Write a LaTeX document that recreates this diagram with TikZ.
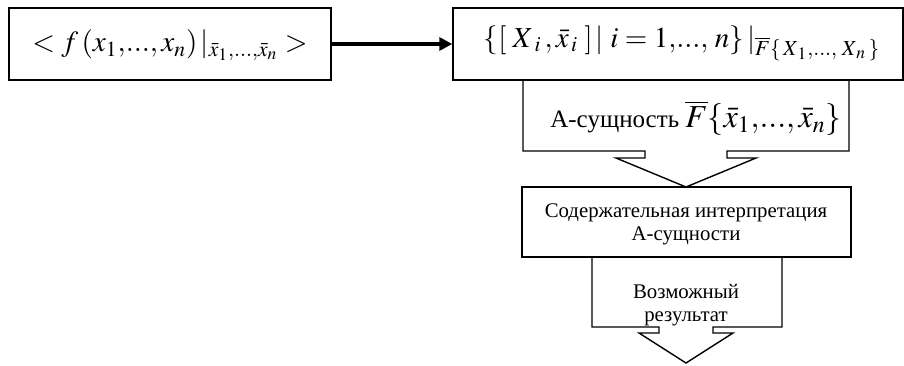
\documentclass[tikz,border=0pt]{standalone}
\usepackage{mathptmx}
\usepackage{fontspec}
\setmainfont{Liberation Serif}
\usetikzlibrary{arrows.meta}
\tikzset{
  box/.style={draw, line width=0.7pt, inner sep=0pt},
  txt/.style={inner sep=0.75pt, align=center, font=\fontsize{10.4}{11.5}\selectfont},
}
\begin{document}
\begin{tikzpicture}[x=0.5pt,y=0.5pt,yscale=-1,xscale=1]
\useasboundingbox (0,0) rectangle (904,365);
%Shape: Rectangle [id:box1]
\node [box, minimum width=161pt, minimum height=36pt] (fbox) at (170,44) {};
%Shape: Rectangle [id:box2]
\node [box, minimum width=225pt, minimum height=36pt] (setbox) at (678,44) {};
%Shape: Rectangle [id:box3]
\node [box, minimum width=164.5pt, minimum height=35pt] (interp) at (686.5,222) {};
%Shape: Down Arrow Callout [id:callout1]
\draw [line width=0.7pt]  (523,80) -- (523,151) -- (645,151) -- (645,158) -- (616,158) -- (686,187) -- (756,158) -- (727,158) -- (727,151) -- (849,151) -- (849,80) ;
%Shape: Down Arrow Callout [id:callout2]
\draw [line width=0.7pt]  (592,257) -- (592,327) -- (659,327) -- (659,333) -- (639,333) -- (686,363) -- (733,333) -- (713,333) -- (713,327) -- (782,327) -- (782,257) ;
%Straight Lines [id:main-arrow]
\draw [line width=1.6pt, -{Triangle[length=6.5pt,width=6.5pt]}]  (fbox.east) -- (setbox.west) ;

% Text Node
\node [txt, font=\fontsize{14.6}{17}\selectfont] (ftext) at (170,45) {$<f\,(x_1{,}...{,}\,x_n)\,|_{\bar{x}_1{,}...{,}\bar{x}_n}>$};
% Text Node
\node [txt, font=\fontsize{14.5}{17}\selectfont] (settext) at (682,43) {$\{[\;X_{\;i}\,,\bar{x}_{\,i}\;]\,|\;i=1{,}...{,}\;n\}\,|_{\overline{F}\{\,X_{\,1}{,}...{,}\;X_{\,n}\,\}}$};
% Text Node
\node [txt, font=\fontsize{12.5}{14}\selectfont] (atext) at (696,118) {А-сущность {\fontsize{16}{18}\selectfont$\overline{F}\{\bar{x}_1{,}...{,}\,\bar{x}_n\}$}};
% Text Node
\node [txt] (itext) at (686,224) {Содержательная интерпретация\\А-сущности};
% Text Node
\node [txt] (rtext) at (686,305) {Возможный\\результат};

\end{tikzpicture}
\end{document}
